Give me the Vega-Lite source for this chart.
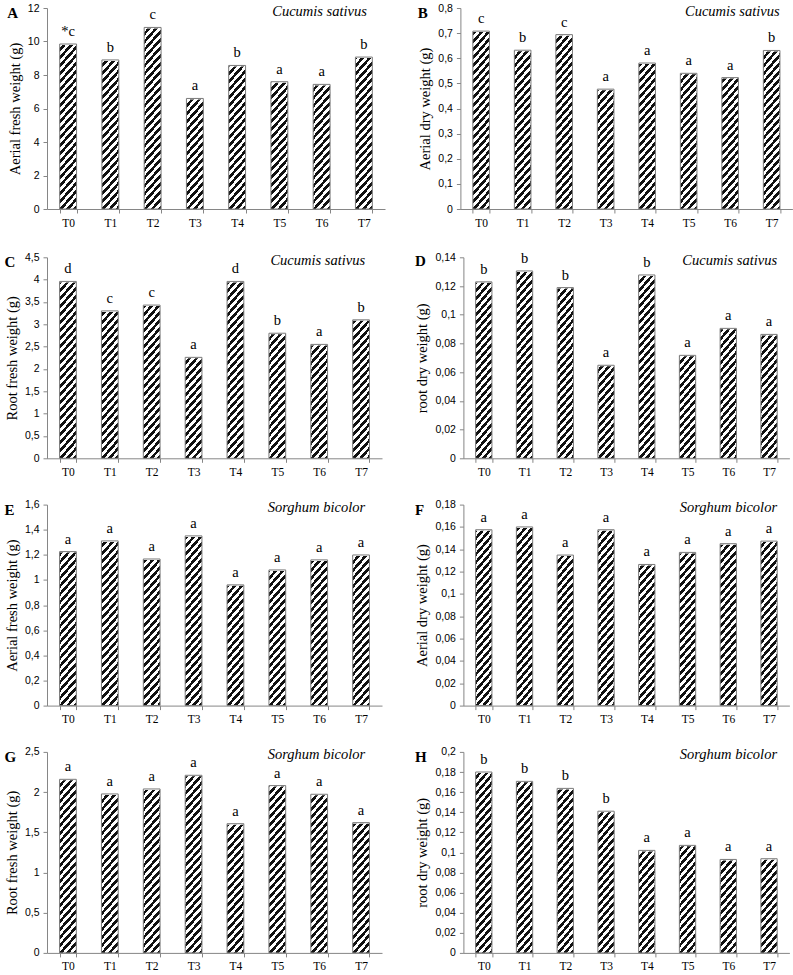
{
  "$schema": "https://vega.github.io/schema/vega-lite/v6.json",
  "background": "white",
  "padding": {"left": 4, "top": 3, "right": 2, "bottom": 2},
  "spacing": 21.3,
  "config": {
    "view": {"stroke": null},
    "font": "Liberation Serif",
    "rect": {
      "stroke": null,
      "fill": {
        "gradient": "linear", "x1": 0, "y1": 0, "x2": 0.1031, "y2": 1.0852,
        "stops": [
          {"offset": 0, "color": "#111"},
          {"offset": 0.0182, "color": "#111"}, {"offset": 0.0182, "color": "#fff"},
          {"offset": 0.0364, "color": "#fff"}, {"offset": 0.0364, "color": "#111"},
          {"offset": 0.0545, "color": "#111"}, {"offset": 0.0545, "color": "#fff"},
          {"offset": 0.0727, "color": "#fff"}, {"offset": 0.0727, "color": "#111"},
          {"offset": 0.0909, "color": "#111"}, {"offset": 0.0909, "color": "#fff"},
          {"offset": 0.1091, "color": "#fff"}, {"offset": 0.1091, "color": "#111"},
          {"offset": 0.1273, "color": "#111"}, {"offset": 0.1273, "color": "#fff"},
          {"offset": 0.1455, "color": "#fff"}, {"offset": 0.1455, "color": "#111"},
          {"offset": 0.1636, "color": "#111"}, {"offset": 0.1636, "color": "#fff"},
          {"offset": 0.1818, "color": "#fff"}, {"offset": 0.1818, "color": "#111"},
          {"offset": 0.2, "color": "#111"}, {"offset": 0.2, "color": "#fff"},
          {"offset": 0.2182, "color": "#fff"}, {"offset": 0.2182, "color": "#111"},
          {"offset": 0.2364, "color": "#111"}, {"offset": 0.2364, "color": "#fff"},
          {"offset": 0.2545, "color": "#fff"}, {"offset": 0.2545, "color": "#111"},
          {"offset": 0.2727, "color": "#111"}, {"offset": 0.2727, "color": "#fff"},
          {"offset": 0.2909, "color": "#fff"}, {"offset": 0.2909, "color": "#111"},
          {"offset": 0.3091, "color": "#111"}, {"offset": 0.3091, "color": "#fff"},
          {"offset": 0.3273, "color": "#fff"}, {"offset": 0.3273, "color": "#111"},
          {"offset": 0.3455, "color": "#111"}, {"offset": 0.3455, "color": "#fff"},
          {"offset": 0.3636, "color": "#fff"}, {"offset": 0.3636, "color": "#111"},
          {"offset": 0.3818, "color": "#111"}, {"offset": 0.3818, "color": "#fff"},
          {"offset": 0.4, "color": "#fff"}, {"offset": 0.4, "color": "#111"},
          {"offset": 0.4182, "color": "#111"}, {"offset": 0.4182, "color": "#fff"},
          {"offset": 0.4364, "color": "#fff"}, {"offset": 0.4364, "color": "#111"},
          {"offset": 0.4545, "color": "#111"}, {"offset": 0.4545, "color": "#fff"},
          {"offset": 0.4727, "color": "#fff"}, {"offset": 0.4727, "color": "#111"},
          {"offset": 0.4909, "color": "#111"}, {"offset": 0.4909, "color": "#fff"},
          {"offset": 0.5091, "color": "#fff"}, {"offset": 0.5091, "color": "#111"},
          {"offset": 0.5273, "color": "#111"}, {"offset": 0.5273, "color": "#fff"},
          {"offset": 0.5455, "color": "#fff"}, {"offset": 0.5455, "color": "#111"},
          {"offset": 0.5636, "color": "#111"}, {"offset": 0.5636, "color": "#fff"},
          {"offset": 0.5818, "color": "#fff"}, {"offset": 0.5818, "color": "#111"},
          {"offset": 0.6, "color": "#111"}, {"offset": 0.6, "color": "#fff"},
          {"offset": 0.6182, "color": "#fff"}, {"offset": 0.6182, "color": "#111"},
          {"offset": 0.6364, "color": "#111"}, {"offset": 0.6364, "color": "#fff"},
          {"offset": 0.6545, "color": "#fff"}, {"offset": 0.6545, "color": "#111"},
          {"offset": 0.6727, "color": "#111"}, {"offset": 0.6727, "color": "#fff"},
          {"offset": 0.6909, "color": "#fff"}, {"offset": 0.6909, "color": "#111"},
          {"offset": 0.7091, "color": "#111"}, {"offset": 0.7091, "color": "#fff"},
          {"offset": 0.7273, "color": "#fff"}, {"offset": 0.7273, "color": "#111"},
          {"offset": 0.7455, "color": "#111"}, {"offset": 0.7455, "color": "#fff"},
          {"offset": 0.7636, "color": "#fff"}, {"offset": 0.7636, "color": "#111"},
          {"offset": 0.7818, "color": "#111"}, {"offset": 0.7818, "color": "#fff"},
          {"offset": 0.8, "color": "#fff"}, {"offset": 0.8, "color": "#111"},
          {"offset": 0.8182, "color": "#111"}, {"offset": 0.8182, "color": "#fff"},
          {"offset": 0.8364, "color": "#fff"}, {"offset": 0.8364, "color": "#111"},
          {"offset": 0.8545, "color": "#111"}, {"offset": 0.8545, "color": "#fff"},
          {"offset": 0.8727, "color": "#fff"}, {"offset": 0.8727, "color": "#111"},
          {"offset": 0.8909, "color": "#111"}, {"offset": 0.8909, "color": "#fff"},
          {"offset": 0.9091, "color": "#fff"}, {"offset": 0.9091, "color": "#111"},
          {"offset": 0.9273, "color": "#111"}, {"offset": 0.9273, "color": "#fff"},
          {"offset": 0.9455, "color": "#fff"}, {"offset": 0.9455, "color": "#111"},
          {"offset": 0.9636, "color": "#111"}, {"offset": 0.9636, "color": "#fff"},
          {"offset": 0.9818, "color": "#fff"}, {"offset": 0.9818, "color": "#111"},
          {"offset": 1, "color": "#111"}
        ]
      }
    },
    "axis": {
      "grid": false,
      "domainColor": "#868686",
      "tickColor": "#868686",
      "tickSize": 4,
      "labelColor": "#000",
      "titleColor": "#000",
      "titleFont": "Liberation Serif",
      "titleFontSize": 14.5,
      "titleFontWeight": "normal"
    },
    "axisY": {
      "labelFont": "Liberation Sans",
      "labelFontSize": 10.5,
      "labelPadding": 4,
      "titlePadding": 5,
      "labelExpr": "replace(format(datum.value, '~g'), '.', ',')"
    },
    "axisX": {
      "labelFont": "Liberation Serif",
      "labelFontSize": 11.5,
      "labelAngle": 0,
      "labelPadding": 4,
      "tickBand": "extent"
    },
    "text": {"font": "Liberation Serif", "fontSize": 14.5, "color": "#000"},
    "title": {
      "anchor": "start",
      "frame": "bounds",
      "font": "Liberation Serif",
      "fontSize": 15,
      "fontWeight": "bold",
      "baseline": "top",
      "offset": -18,
      "color": "#000"
    }
  },
  "vconcat": [
    {
      "spacing": 32.4,
      "hconcat": [
        {
          "width": 338, "height": 201,
          "title": "A",
          "data": {"values": [
            {"t": "T0", "v": 9.85, "g": "*c"}, {"t": "T1", "v": 8.9, "g": "b"},
            {"t": "T2", "v": 10.84, "g": "c"}, {"t": "T3", "v": 6.6, "g": "a"},
            {"t": "T4", "v": 8.57, "g": "b"}, {"t": "T5", "v": 7.6, "g": "a"},
            {"t": "T6", "v": 7.44, "g": "a"}, {"t": "T7", "v": 9.07, "g": "b"}
          ]},
          "encoding": {
            "x": {"field": "t", "type": "nominal", "title": null, "scale": {"paddingInner": 0.6, "paddingOuter": 0.3}},
            "y": {"field": "v", "type": "quantitative", "title": "Aerial fresh weight (g)", "scale": {"domain": [0, 12], "nice": false}, "axis": {"values": [0, 2, 4, 6, 8, 10, 12]}}
          },
          "layer": [
            {"mark": "rect", "encoding": {"y": {"datum": 0, "type": "quantitative", "title": "Aerial fresh weight (g)"}, "y2": {"datum": 12}}},
            {"mark": {"type": "bar", "fill": "#fff", "stroke": "#fff", "strokeWidth": 2}, "encoding": {"y2": {"datum": 12}}},
            {"mark": {"type": "bar", "fill": "transparent", "stroke": "#7a7a7a", "strokeWidth": 1}},
            {"mark": {"type": "text", "baseline": "alphabetic", "dy": -8}, "encoding": {"text": {"field": "g"}}},
            {"transform": [{"filter": "datum.t === 'T7'"}], "mark": {"type": "text", "align": "right", "baseline": "middle", "dx": 3, "dy": 3.5, "fontStyle": "italic"}, "encoding": {"y": {"datum": 12, "type": "quantitative", "title": "Aerial fresh weight (g)"}, "text": {"value": "Cucumis sativus"}}}
          ]
        },
        {
          "width": 332, "height": 201,
          "title": "B",
          "data": {"values": [
            {"t": "T0", "v": 0.708, "g": "c"}, {"t": "T1", "v": 0.632, "g": "b"},
            {"t": "T2", "v": 0.694, "g": "c"}, {"t": "T3", "v": 0.477, "g": "a"},
            {"t": "T4", "v": 0.581, "g": "a"}, {"t": "T5", "v": 0.54, "g": "a"},
            {"t": "T6", "v": 0.523, "g": "a"}, {"t": "T7", "v": 0.631, "g": "b"}
          ]},
          "encoding": {
            "x": {"field": "t", "type": "nominal", "title": null, "scale": {"paddingInner": 0.6, "paddingOuter": 0.3}},
            "y": {"field": "v", "type": "quantitative", "title": "Aerial dry weight (g)", "scale": {"domain": [0, 0.8], "nice": false}, "axis": {"values": [0, 0.1, 0.2, 0.3, 0.4, 0.5, 0.6, 0.7, 0.8]}}
          },
          "layer": [
            {"mark": "rect", "encoding": {"y": {"datum": 0, "type": "quantitative", "title": "Aerial dry weight (g)"}, "y2": {"datum": 0.8}}},
            {"mark": {"type": "bar", "fill": "#fff", "stroke": "#fff", "strokeWidth": 2}, "encoding": {"y2": {"datum": 0.8}}},
            {"mark": {"type": "bar", "fill": "transparent", "stroke": "#7a7a7a", "strokeWidth": 1}},
            {"mark": {"type": "text", "baseline": "alphabetic", "dy": -8}, "encoding": {"text": {"field": "g"}}},
            {"transform": [{"filter": "datum.t === 'T7'"}], "mark": {"type": "text", "align": "right", "baseline": "middle", "dx": 8, "dy": 3.5, "fontStyle": "italic"}, "encoding": {"y": {"datum": 0.8, "type": "quantitative", "title": "Aerial dry weight (g)"}, "text": {"value": "Cucumis sativus"}}}
          ]
        }
      ]
    },
    {
      "spacing": 32.4,
      "hconcat": [
        {
          "width": 335, "height": 201,
          "title": "C",
          "data": {"values": [
            {"t": "T0", "v": 3.96, "g": "d"}, {"t": "T1", "v": 3.3, "g": "c"},
            {"t": "T2", "v": 3.43, "g": "c"}, {"t": "T3", "v": 2.26, "g": "a"},
            {"t": "T4", "v": 3.96, "g": "d"}, {"t": "T5", "v": 2.8, "g": "b"},
            {"t": "T6", "v": 2.55, "g": "a"}, {"t": "T7", "v": 3.1, "g": "b"}
          ]},
          "encoding": {
            "x": {"field": "t", "type": "nominal", "title": null, "scale": {"paddingInner": 0.6, "paddingOuter": 0.3}},
            "y": {"field": "v", "type": "quantitative", "title": "Root fresh weight (g)", "scale": {"domain": [0, 4.5], "nice": false}, "axis": {"values": [0, 0.5, 1, 1.5, 2, 2.5, 3, 3.5, 4, 4.5]}}
          },
          "layer": [
            {"mark": "rect", "encoding": {"y": {"datum": 0, "type": "quantitative", "title": "Root fresh weight (g)"}, "y2": {"datum": 4.5}}},
            {"mark": {"type": "bar", "fill": "#fff", "stroke": "#fff", "strokeWidth": 2}, "encoding": {"y2": {"datum": 4.5}}},
            {"mark": {"type": "bar", "fill": "transparent", "stroke": "#7a7a7a", "strokeWidth": 1}},
            {"mark": {"type": "text", "baseline": "alphabetic", "dy": -8}, "encoding": {"text": {"field": "g"}}},
            {"transform": [{"filter": "datum.t === 'T7'"}], "mark": {"type": "text", "align": "right", "baseline": "middle", "dx": 4, "dy": 3.5, "fontStyle": "italic"}, "encoding": {"y": {"datum": 4.5, "type": "quantitative", "title": "Root fresh weight (g)"}, "text": {"value": "Cucumis sativus"}}}
          ]
        },
        {
          "width": 326, "height": 201,
          "title": "D",
          "data": {"values": [
            {"t": "T0", "v": 0.1229, "g": "b"}, {"t": "T1", "v": 0.1305, "g": "b"},
            {"t": "T2", "v": 0.1189, "g": "b"}, {"t": "T3", "v": 0.0648, "g": "a"},
            {"t": "T4", "v": 0.1277, "g": "b"}, {"t": "T5", "v": 0.0717, "g": "a"},
            {"t": "T6", "v": 0.0905, "g": "a"}, {"t": "T7", "v": 0.0863, "g": "a"}
          ]},
          "encoding": {
            "x": {"field": "t", "type": "nominal", "title": null, "scale": {"paddingInner": 0.6, "paddingOuter": 0.3}},
            "y": {"field": "v", "type": "quantitative", "title": "root dry weight (g)", "scale": {"domain": [0, 0.14], "nice": false}, "axis": {"values": [0, 0.02, 0.04, 0.06, 0.08, 0.1, 0.12, 0.14]}}
          },
          "layer": [
            {"mark": "rect", "encoding": {"y": {"datum": 0, "type": "quantitative", "title": "root dry weight (g)"}, "y2": {"datum": 0.14}}},
            {"mark": {"type": "bar", "fill": "#fff", "stroke": "#fff", "strokeWidth": 2}, "encoding": {"y2": {"datum": 0.14}}},
            {"mark": {"type": "bar", "fill": "transparent", "stroke": "#7a7a7a", "strokeWidth": 1}},
            {"mark": {"type": "text", "baseline": "alphabetic", "dy": -8}, "encoding": {"text": {"field": "g"}}},
            {"transform": [{"filter": "datum.t === 'T7'"}], "mark": {"type": "text", "align": "right", "baseline": "middle", "dx": 8, "dy": 3.5, "fontStyle": "italic"}, "encoding": {"y": {"datum": 0.14, "type": "quantitative", "title": "root dry weight (g)"}, "text": {"value": "Cucumis sativus"}}}
          ]
        }
      ]
    },
    {
      "spacing": 32.4,
      "hconcat": [
        {
          "width": 335, "height": 201,
          "title": "E",
          "data": {"values": [
            {"t": "T0", "v": 1.226, "g": "a"}, {"t": "T1", "v": 1.311, "g": "a"},
            {"t": "T2", "v": 1.167, "g": "a"}, {"t": "T3", "v": 1.351, "g": "a"},
            {"t": "T4", "v": 0.961, "g": "a"}, {"t": "T5", "v": 1.08, "g": "a"},
            {"t": "T6", "v": 1.16, "g": "a"}, {"t": "T7", "v": 1.199, "g": "a"}
          ]},
          "encoding": {
            "x": {"field": "t", "type": "nominal", "title": null, "scale": {"paddingInner": 0.6, "paddingOuter": 0.3}},
            "y": {"field": "v", "type": "quantitative", "title": "Aerial fresh weight (g)", "scale": {"domain": [0, 1.6], "nice": false}, "axis": {"values": [0, 0.2, 0.4, 0.6, 0.8, 1, 1.2, 1.4, 1.6]}}
          },
          "layer": [
            {"mark": "rect", "encoding": {"y": {"datum": 0, "type": "quantitative", "title": "Aerial fresh weight (g)"}, "y2": {"datum": 1.6}}},
            {"mark": {"type": "bar", "fill": "#fff", "stroke": "#fff", "strokeWidth": 2}, "encoding": {"y2": {"datum": 1.6}}},
            {"mark": {"type": "bar", "fill": "transparent", "stroke": "#7a7a7a", "strokeWidth": 1}},
            {"mark": {"type": "text", "baseline": "alphabetic", "dy": -8}, "encoding": {"text": {"field": "g"}}},
            {"transform": [{"filter": "datum.t === 'T7'"}], "mark": {"type": "text", "align": "right", "baseline": "middle", "dx": 4, "dy": 3.5, "fontStyle": "italic"}, "encoding": {"y": {"datum": 1.6, "type": "quantitative", "title": "Aerial fresh weight (g)"}, "text": {"value": "Sorghum bicolor"}}}
          ]
        },
        {
          "width": 326, "height": 201,
          "title": "F",
          "data": {"values": [
            {"t": "T0", "v": 0.1575, "g": "a"}, {"t": "T1", "v": 0.16, "g": "a"},
            {"t": "T2", "v": 0.1348, "g": "a"}, {"t": "T3", "v": 0.1575, "g": "a"},
            {"t": "T4", "v": 0.1264, "g": "a"}, {"t": "T5", "v": 0.1372, "g": "a"},
            {"t": "T6", "v": 0.145, "g": "a"}, {"t": "T7", "v": 0.1473, "g": "a"}
          ]},
          "encoding": {
            "x": {"field": "t", "type": "nominal", "title": null, "scale": {"paddingInner": 0.6, "paddingOuter": 0.3}},
            "y": {"field": "v", "type": "quantitative", "title": "Aerial dry weight (g)", "scale": {"domain": [0, 0.18], "nice": false}, "axis": {"values": [0, 0.02, 0.04, 0.06, 0.08, 0.1, 0.12, 0.14, 0.16, 0.18]}}
          },
          "layer": [
            {"mark": "rect", "encoding": {"y": {"datum": 0, "type": "quantitative", "title": "Aerial dry weight (g)"}, "y2": {"datum": 0.18}}},
            {"mark": {"type": "bar", "fill": "#fff", "stroke": "#fff", "strokeWidth": 2}, "encoding": {"y2": {"datum": 0.18}}},
            {"mark": {"type": "bar", "fill": "transparent", "stroke": "#7a7a7a", "strokeWidth": 1}},
            {"mark": {"type": "text", "baseline": "alphabetic", "dy": -8}, "encoding": {"text": {"field": "g"}}},
            {"transform": [{"filter": "datum.t === 'T7'"}], "mark": {"type": "text", "align": "right", "baseline": "middle", "dx": 8, "dy": 3.5, "fontStyle": "italic"}, "encoding": {"y": {"datum": 0.18, "type": "quantitative", "title": "Aerial dry weight (g)"}, "text": {"value": "Sorghum bicolor"}}}
          ]
        }
      ]
    },
    {
      "spacing": 32.4,
      "hconcat": [
        {
          "width": 335, "height": 201,
          "title": "G",
          "data": {"values": [
            {"t": "T0", "v": 2.159, "g": "a"}, {"t": "T1", "v": 1.977, "g": "a"},
            {"t": "T2", "v": 2.039, "g": "a"}, {"t": "T3", "v": 2.209, "g": "a"},
            {"t": "T4", "v": 1.607, "g": "a"}, {"t": "T5", "v": 2.081, "g": "a"},
            {"t": "T6", "v": 1.973, "g": "a"}, {"t": "T7", "v": 1.62, "g": "a"}
          ]},
          "encoding": {
            "x": {"field": "t", "type": "nominal", "title": null, "scale": {"paddingInner": 0.6, "paddingOuter": 0.3}},
            "y": {"field": "v", "type": "quantitative", "title": "Root fresh weight (g)", "scale": {"domain": [0, 2.5], "nice": false}, "axis": {"values": [0, 0.5, 1, 1.5, 2, 2.5]}}
          },
          "layer": [
            {"mark": "rect", "encoding": {"y": {"datum": 0, "type": "quantitative", "title": "Root fresh weight (g)"}, "y2": {"datum": 2.5}}},
            {"mark": {"type": "bar", "fill": "#fff", "stroke": "#fff", "strokeWidth": 2}, "encoding": {"y2": {"datum": 2.5}}},
            {"mark": {"type": "bar", "fill": "transparent", "stroke": "#7a7a7a", "strokeWidth": 1}},
            {"mark": {"type": "text", "baseline": "alphabetic", "dy": -8}, "encoding": {"text": {"field": "g"}}},
            {"transform": [{"filter": "datum.t === 'T7'"}], "mark": {"type": "text", "align": "right", "baseline": "middle", "dx": 4, "dy": 3.5, "fontStyle": "italic"}, "encoding": {"y": {"datum": 2.5, "type": "quantitative", "title": "Root fresh weight (g)"}, "text": {"value": "Sorghum bicolor"}}}
          ]
        },
        {
          "width": 326, "height": 201,
          "title": "H",
          "data": {"values": [
            {"t": "T0", "v": 0.18, "g": "b"}, {"t": "T1", "v": 0.1707, "g": "b"},
            {"t": "T2", "v": 0.1637, "g": "b"}, {"t": "T3", "v": 0.141, "g": "b"},
            {"t": "T4", "v": 0.102, "g": "a"}, {"t": "T5", "v": 0.107, "g": "a"},
            {"t": "T6", "v": 0.093, "g": "a"}, {"t": "T7", "v": 0.0937, "g": "a"}
          ]},
          "encoding": {
            "x": {"field": "t", "type": "nominal", "title": null, "scale": {"paddingInner": 0.6, "paddingOuter": 0.3}},
            "y": {"field": "v", "type": "quantitative", "title": "root dry weight (g)", "scale": {"domain": [0, 0.2], "nice": false}, "axis": {"values": [0, 0.02, 0.04, 0.06, 0.08, 0.1, 0.12, 0.14, 0.16, 0.18, 0.2]}}
          },
          "layer": [
            {"mark": "rect", "encoding": {"y": {"datum": 0, "type": "quantitative", "title": "root dry weight (g)"}, "y2": {"datum": 0.2}}},
            {"mark": {"type": "bar", "fill": "#fff", "stroke": "#fff", "strokeWidth": 2}, "encoding": {"y2": {"datum": 0.2}}},
            {"mark": {"type": "bar", "fill": "transparent", "stroke": "#7a7a7a", "strokeWidth": 1}},
            {"mark": {"type": "text", "baseline": "alphabetic", "dy": -8}, "encoding": {"text": {"field": "g"}}},
            {"transform": [{"filter": "datum.t === 'T7'"}], "mark": {"type": "text", "align": "right", "baseline": "middle", "dx": 8, "dy": 3.5, "fontStyle": "italic"}, "encoding": {"y": {"datum": 0.2, "type": "quantitative", "title": "root dry weight (g)"}, "text": {"value": "Sorghum bicolor"}}}
          ]
        }
      ]
    }
  ]
}
